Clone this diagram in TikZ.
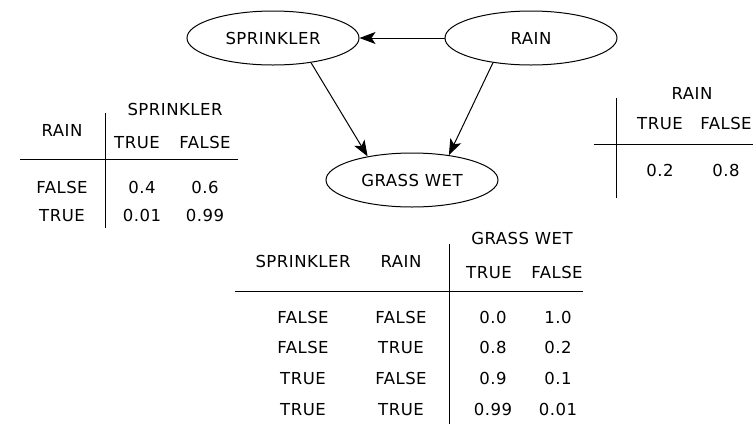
\documentclass[tikz,border=0pt]{standalone}
\usepackage{fontspec}
\setmainfont{DejaVu Sans}[LetterSpace=3]
\usetikzlibrary{shapes.geometric,arrows.meta}
\begin{document}
\begin{tikzpicture}[x=1pt,y=-1pt,
  every node/.style={font=\fontsize{16.5}{19}\selectfont},
  ell/.style={draw,ellipse,line width=1pt,minimum width=172pt,minimum height=54pt,inner sep=0pt},
  tx/.style={inner sep=0pt,text height=12pt,text depth=0pt},
  rulel/.style={line width=1pt},
  arr/.style={line width=1pt,-{Stealth[length=16pt,width=12pt,inset=4pt]}}]
\useasboundingbox[fill=white] (0,0) rectangle (753,424);

% network
\node[ell] (spr) at (273,38) {SPRINKLER};
\node[ell] (rain) at (531,38) {RAIN};
\node[ell] (grass) at (412,180) {GRASS WET};
\draw[arr] (rain) -- (spr);
\draw[arr] (spr.-33) -- (grass.152);
\draw[arr] (rain.-147) -- (grass.34);

% left table: P(SPRINKLER | RAIN)
\node[tx] (lRain) at (62,130) {RAIN};
\node[tx] (lSpr) at (175,109) {SPRINKLER};
\node[tx] (lT) at (137,142) {TRUE};
\node[tx] (lF) at (205,142) {FALSE};
\node[tx] (lr1) at (62,187) {FALSE};
\node[tx] (lr2) at (62,215) {TRUE};
\node[tx] (l11) at (142,187) {0.4};
\node[tx] (l12) at (205,187) {0.6};
\node[tx] (l21) at (142,215) {0.01};
\node[tx] (l22) at (205,215) {0.99};
\coordinate (lh1) at (20,159); \coordinate (lh2) at (238,159);
\coordinate (lv1) at (105,113); \coordinate (lv2) at (105,228);
\draw[rulel] (lh1) -- (lh2);
\draw[rulel] (lv1) -- (lv2);

% right table: P(RAIN)
\node[tx] (rRain) at (692,93) {RAIN};
\node[tx] (rT) at (660,123) {TRUE};
\node[tx] (rF) at (726,123) {FALSE};
\node[tx] (r1) at (660,170) {0.2};
\node[tx] (r2) at (726,170) {0.8};
\coordinate (rh1) at (594,144); \coordinate (rh2) at (753,144);
\coordinate (rv1) at (616,98); \coordinate (rv2) at (616,198);
\draw[rulel] (rh1) -- (rh2);
\draw[rulel] (rv1) -- (rv2);

% bottom table: P(GRASS WET | SPRINKLER, RAIN)
\node[tx] (bSpr) at (303,261) {SPRINKLER};
\node[tx] (bRain) at (401,261) {RAIN};
\node[tx] (bGW) at (522,238) {GRASS WET};
\node[tx] (bT) at (489,272) {TRUE};
\node[tx] (bF) at (557,272) {FALSE};
\foreach \y/\a/\b/\c/\d [count=\i] in {317/FALSE/FALSE/0.0/1.0, 347/FALSE/TRUE/0.8/0.2, 378/TRUE/FALSE/0.9/0.1, 409/TRUE/TRUE/0.99/0.01}{
  \node[tx] (b\i a) at (303,\y) {\a};
  \node[tx] (b\i b) at (401,\y) {\b};
  \node[tx] (b\i c) at (493,\y) {\c};
  \node[tx] (b\i d) at (558,\y) {\d};
}
\coordinate (bh1) at (235,291); \coordinate (bh2) at (583,291);
\coordinate (bv1) at (449,244); \coordinate (bv2) at (449,424);
\draw[rulel] (bh1) -- (bh2);
\draw[rulel] (bv1) -- (bv2);
\end{tikzpicture}
\end{document}
